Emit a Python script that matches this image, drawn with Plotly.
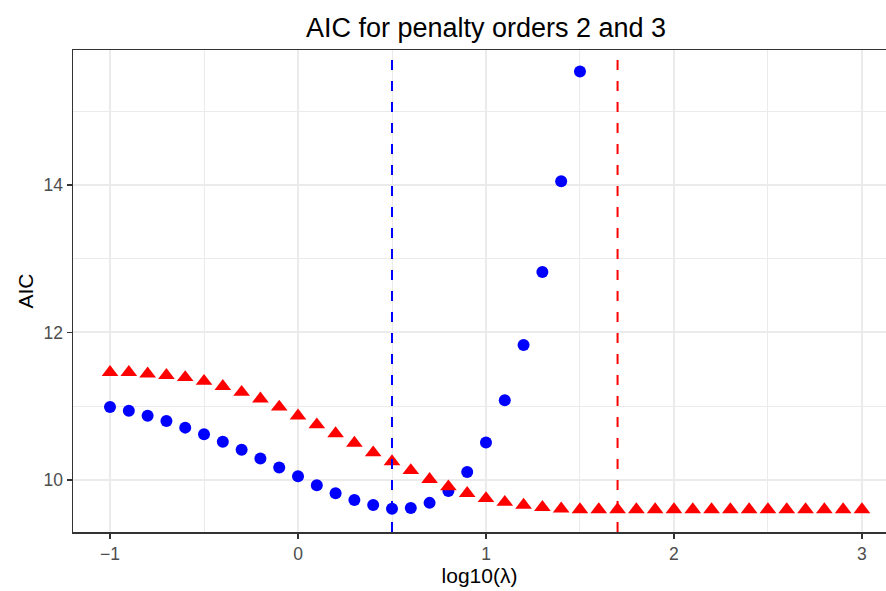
import plotly.graph_objects as go

# ---- data ----
log_lambda_o2 = [-1.0, -0.9, -0.8, -0.7, -0.6, -0.5, -0.4, -0.3, -0.2, -0.1, 0.0,
                 0.1, 0.2, 0.3, 0.4, 0.5, 0.6, 0.7, 0.8, 0.9, 1.0, 1.1, 1.2, 1.3, 1.4, 1.5]
aic_o2 = [10.99, 10.94, 10.87, 10.80, 10.71, 10.62, 10.52, 10.41, 10.29, 10.17, 10.05,
          9.93, 9.82, 9.73, 9.66, 9.61, 9.62, 9.69, 9.85, 10.11, 10.51, 11.08, 11.83, 12.82, 14.05, 15.54]

log_lambda_o3 = [-1.0, -0.9, -0.8, -0.7, -0.6, -0.5, -0.4, -0.3, -0.2, -0.1, 0.0,
                 0.1, 0.2, 0.3, 0.4, 0.5, 0.6, 0.7, 0.8, 0.9, 1.0,
                 1.1, 1.2, 1.3, 1.4, 1.5, 1.6, 1.7, 1.8, 1.9, 2.0,
                 2.1, 2.2, 2.3, 2.4, 2.5, 2.6, 2.7, 2.8, 2.9, 3.0]
aic_o3 = [11.46, 11.46, 11.44, 11.42, 11.39, 11.34, 11.27, 11.19, 11.10, 10.99, 10.87,
          10.75, 10.63, 10.50, 10.37, 10.25, 10.13, 10.01, 9.91, 9.82, 9.75,
          9.70, 9.66, 9.63, 9.61, 9.60, 9.60, 9.60, 9.60, 9.60, 9.60,
          9.60, 9.60, 9.60, 9.60, 9.60, 9.60, 9.60, 9.60, 9.60, 9.60]

opt_o2 = 0.5   # optimal log10(lambda), order 2
opt_o3 = 1.7   # optimal log10(lambda), order 3

x_ticks = [-1, 0, 1, 2, 3]
x_tick_labels = ["\u22121", "0", "1", "2", "3"]
y_ticks = [10, 12, 14]
y_tick_labels = ["10", "12", "14"]

title_text = "AIC for penalty orders 2 and 3"
x_title = "log10(\u03bb)"
y_title = "AIC"

FONT = "Liberation Sans, Arial, sans-serif"

fig = go.Figure()
fig.add_trace(go.Scatter(x=log_lambda_o2, y=aic_o2, mode="markers",
                         marker=dict(symbol="circle", size=12, color="#0000FF"),
                         name="order 2", showlegend=False))
fig.add_trace(go.Scatter(x=log_lambda_o3, y=aic_o3, mode="markers",
                         marker=dict(symbol="triangle-up", size=14.5, color="#FF0000"),
                         name="order 3", showlegend=False))

for xv, col in [(opt_o2, "#0000FF"), (opt_o3, "#FF0000")]:
    fig.add_shape(type="line", x0=xv, x1=xv, y0=0, y1=1, xref="x", yref="paper",
                  line=dict(color=col, width=2, dash="10px,11px"), layer="above")

fig.update_layout(
    width=886, height=591,
    margin=dict(l=73, r=0, t=50, b=59, autoexpand=False),
    paper_bgcolor="white", plot_bgcolor="white",
    font=dict(family=FONT, color="black"),
    title=dict(text=title_text, x=0.508, xref="paper", xanchor="center",
               y=1 - 28 / 591, yref="container", yanchor="middle",
               font=dict(size=27, color="black", family=FONT)),
)

fig.update_xaxes(
    range=[-1.197, 3.128],
    tickvals=x_ticks, ticktext=x_tick_labels,
    showgrid=True, gridcolor="#EBEBEB", gridwidth=2,
    minor=dict(dtick=0.5, tick0=-0.5, showgrid=True, gridcolor="#EBEBEB", gridwidth=1, ticks=""),
    zeroline=False,
    showline=True, linecolor="#333333", linewidth=1.5, mirror=True,
    ticks="outside", ticklen=5, tickwidth=1.5, tickcolor="#333333",
    tickfont=dict(size=17.5, color="#4D4D4D", family=FONT),
    title=dict(text=x_title, font=dict(size=21, color="black", family=FONT), standoff=6),
    automargin=False,
)
fig.update_yaxes(
    range=[9.295, 15.83],
    tickvals=y_ticks, ticktext=y_tick_labels,
    showgrid=True, gridcolor="#EBEBEB", gridwidth=2,
    minor=dict(dtick=1, tick0=11, showgrid=True, gridcolor="#EBEBEB", gridwidth=1, ticks=""),
    zeroline=False,
    showline=True, linecolor="#333333", linewidth=1.5, mirror=False,
    ticks="outside", ticklen=5, tickwidth=1.5, tickcolor="#333333",
    tickfont=dict(size=17.5, color="#4D4D4D", family=FONT),
    title=dict(text=y_title, font=dict(size=21, color="black", family=FONT), standoff=4),
    automargin=False,
)

fig.write_html("out.html", config={"displayModeBar": False, "staticPlot": True})

# remove the default page margin so the figure sits at the window's top-left corner
with open("out.html", "r", encoding="utf-8") as fh:
    html = fh.read()
html = html.replace("<head>", "<head><style>html,body{margin:0;padding:0;overflow:hidden;}</style>", 1)
with open("out.html", "w", encoding="utf-8") as fh:
    fh.write(html)
